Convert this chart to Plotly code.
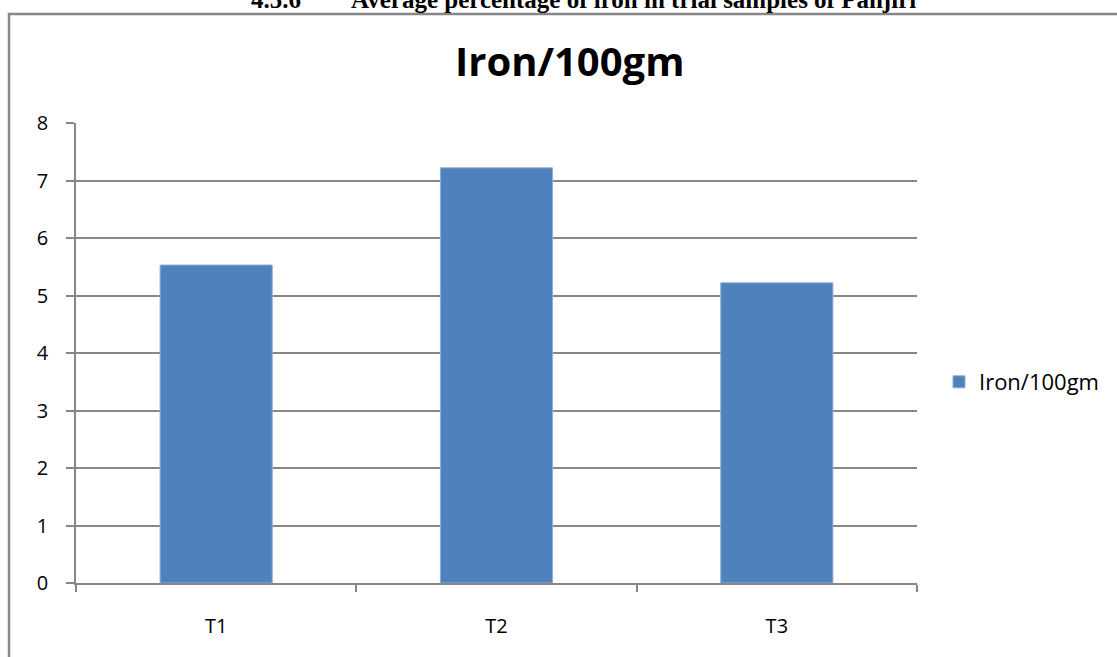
import plotly.graph_objects as go

categories = ["T1", "T2", "T3"]
iron_values = [5.53, 7.22, 5.22]
series_name = "Iron/100gm"
chart_title = "Iron/100gm"
caption_number = "4.5.6"
caption_text = "Average percentage of iron in trial samples of Panjiri"
y_ticks = [0, 1, 2, 3, 4, 5, 6, 7, 8]

W, H = 1117, 657
L, R, T, B = 76, 917, 123, 583

def px(x):
    return (x - L) / (R - L)

def py(y):
    return (B - y) / (B - T)

grid = "#878787"

fig = go.Figure()
fig.add_trace(go.Bar(
    x=categories, y=iron_values, name=series_name,
    marker=dict(color="#4F81BD", line=dict(color="#8EAEDB", width=1)),
    width=0.4, showlegend=True,
))

fig.update_layout(
    width=W, height=H,
    margin=dict(l=L, r=W - R, t=T, b=H - B),
    paper_bgcolor="white", plot_bgcolor="white",
    font=dict(family="Open Sans, Lato, sans-serif", color="black", size=18),
    showlegend=True,
    legend=dict(x=px(939), y=py(382), xanchor="left", yanchor="middle",
                font=dict(size=22, family="Open Sans"), itemwidth=30,
                bgcolor="rgba(0,0,0,0)"),
    bargap=0.6,
    xaxis=dict(
        type="category", range=[-0.5, 2.5], tickson="boundaries",
        ticks="outside", ticklen=7, tickcolor=grid, tickwidth=1.5,
        showline=True, linecolor=grid, linewidth=1.5,
        showgrid=False, ticklabelstandoff=24,
        tickfont=dict(size=20),
    ),
    yaxis=dict(
        range=[0, 8], tickvals=y_ticks, ticks="outside", ticklen=8,
        tickcolor=grid, tickwidth=1.5,
        showline=True, linecolor=grid, linewidth=1.5,
        showgrid=True, gridcolor=grid, gridwidth=1.5,
        zeroline=False, ticklabelstandoff=14,
        tickfont=dict(size=20),
    ),
    shapes=[
        dict(type="rect", xref="paper", yref="paper",
             x0=px(9), x1=px(1125), y0=py(14), y1=py(665),
             line=dict(color=grid, width=2.5), layer="below"),
    ],
    annotations=[
        dict(text="<b>" + chart_title + "</b>", xref="paper", yref="paper",
             x=px(569), y=py(61), xanchor="center", yanchor="middle",
             showarrow=False, font=dict(size=40, family="Open Sans")),
        dict(text="<b>" + caption_number + "</b>", xref="paper", yref="paper",
             x=px(303), y=py(15), xanchor="right", yanchor="bottom",
             showarrow=False, font=dict(size=25, family="Liberation Serif")),
        dict(text="<b>" + caption_text + "</b>", xref="paper", yref="paper",
             x=px(349), y=py(15), xanchor="left", yanchor="bottom",
             showarrow=False, font=dict(size=25, family="Liberation Serif")),
    ],
)

fig.write_html("out.html",
               config={"displayModeBar": False},
               post_script="document.body.style.margin='0';document.body.style.overflow='hidden';")
